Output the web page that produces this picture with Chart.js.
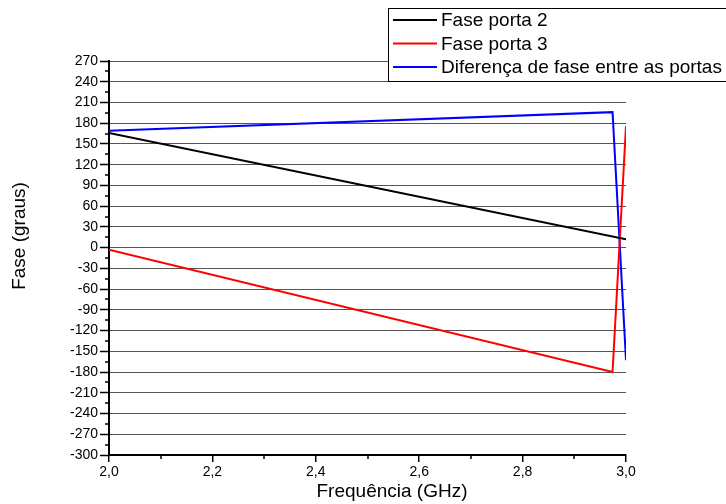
<!DOCTYPE html>
<html>
<head>
<meta charset="utf-8">
<script src="https://cdn.jsdelivr.net/npm/chart.js@4/dist/chart.umd.min.js"></script>
<style>
  html, body { margin: 0; padding: 0; background: #fff; }
  #wrap { width: 726px; height: 504px; }
</style>
</head>
<body>
<div id="wrap"><canvas id="chart" width="726" height="504"></canvas></div>
<script>
// Series data
const seriesNames = ['Fase porta 2', 'Fase porta 3', 'Diferença de fase entre as portas'];
const seriesColors = ['#000000', '#ff0000', '#0000ff'];

const freqPorta2 = [2.0, 3.0];
const fasePorta2 = [166, 12];

const freqPorta3 = [2.0, 2.974, 3.0];
const fasePorta3 = [-3, -180, 176];

const freqDiff = [2.0, 2.974, 3.0];
const faseDiff = [169, 196, -163];

const xTitle = 'Frequência (GHz)';
const yTitle = 'Fase (graus)';

const FONT = 'Arial, "Liberation Sans", sans-serif';

function toPoints(xs, ys) {
    return xs.map((x, i) => ({ x: x, y: ys[i] }));
}

// Minor ticks between the major ones
const minorTicks = {
    id: 'minorTicks',
    afterDraw(chart) {
        const ctx = chart.ctx;
        const xs = chart.scales.x, ys = chart.scales.y;
        ctx.save();
        ctx.strokeStyle = '#000';
        ctx.lineWidth = 1.5;
        ctx.beginPath();
        for (let v = 2.1; v < 3.0; v += 0.2) {
            const px = Math.round(xs.getPixelForValue(v));
            ctx.moveTo(px, ys.bottom);
            ctx.lineTo(px, ys.bottom + 4);
        }
        for (let v = -285; v < 270; v += 30) {
            const py = Math.round(ys.getPixelForValue(v));
            ctx.moveTo(xs.left - 4, py);
            ctx.lineTo(xs.left, py);
        }
        ctx.stroke();
        ctx.restore();
    }
};

// Axis titles, placed where the original software put them
const axisTitles = {
    id: 'axisTitles',
    afterDraw(chart) {
        const ctx = chart.ctx;
        ctx.save();
        ctx.fillStyle = '#000';
        ctx.font = '19px ' + FONT;
        ctx.textAlign = 'center';
        ctx.textBaseline = 'middle';
        ctx.fillText(xTitle, 392, 492);
        ctx.translate(20, 236);
        ctx.rotate(-Math.PI / 2);
        ctx.fillText(yTitle, 0, 0);
        ctx.restore();
    }
};

// Legend box in the top right corner, drawn over the plot
const boxLegend = {
    id: 'boxLegend',
    afterDraw(chart) {
        const ctx = chart.ctx;
        ctx.save();
        ctx.fillStyle = '#fff';
        ctx.fillRect(388, 8, 360, 73);
        ctx.strokeStyle = '#000';
        ctx.lineWidth = 1;
        ctx.strokeRect(388.5, 8.5, 360, 73);
        ctx.font = '19px ' + FONT;
        ctx.textBaseline = 'middle';
        seriesNames.forEach((name, i) => {
            const y = 20 + i * 23.5;
            ctx.strokeStyle = seriesColors[i];
            ctx.lineWidth = 2;
            ctx.beginPath();
            ctx.moveTo(393, y);
            ctx.lineTo(437, y);
            ctx.stroke();
            ctx.fillStyle = '#000';
            ctx.fillText(name, 441, y + 1);
        });
        ctx.restore();
    }
};

new Chart(document.getElementById('chart'), {
    type: 'scatter',
    data: {
        datasets: [
            { label: seriesNames[0], data: toPoints(freqPorta2, fasePorta2), borderColor: seriesColors[0] },
            { label: seriesNames[1], data: toPoints(freqPorta3, fasePorta3), borderColor: seriesColors[1] },
            { label: seriesNames[2], data: toPoints(freqDiff, faseDiff), borderColor: seriesColors[2] }
        ].map(d => ({ ...d, showLine: true, borderWidth: 2, pointRadius: 0, tension: 0 }))
    },
    options: {
        responsive: false,
        animation: false,
        layout: { padding: { top: 61, right: 100, left: 0, bottom: 0 } },
        plugins: { legend: { display: false }, tooltip: { enabled: false } },
        scales: {
            x: {
                type: 'linear',
                min: 2.0,
                max: 3.0,
                afterFit(scale) { scale.height = 49; },
                ticks: {
                    stepSize: 0.2,
                    color: '#000',
                    padding: 2,
                    font: { family: FONT, size: 14 },
                    callback: v => v.toFixed(1).replace('.', ',')
                },
                grid: { display: true, drawOnChartArea: false, drawTicks: true, tickLength: 7, color: '#000', lineWidth: 1.5 },
                border: { display: true, color: '#000', width: 2 }
            },
            y: {
                type: 'linear',
                min: -300,
                max: 270,
                afterFit(scale) { scale.width = 109; },
                ticks: {
                    stepSize: 30,
                    color: '#000',
                    padding: 2,
                    font: { family: FONT, size: 14 }
                },
                grid: { color: '#555', lineWidth: 1, tickLength: 9, tickColor: '#000', tickWidth: 1.5 },
                border: { display: true, color: '#000', width: 2 }
            }
        }
    },
    plugins: [minorTicks, axisTitles, boxLegend]
});
</script>
</body>
</html>
